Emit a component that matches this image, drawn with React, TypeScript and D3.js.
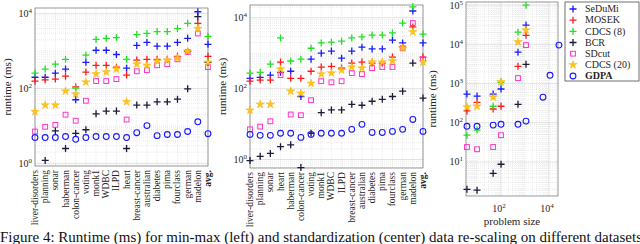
import React from "react";
import * as d3 from "d3";

const W = 640;
const H = 244;

const methods = ["SeDuMi", "MOSEK", "CDCS (8)", "BCR", "SDcut", "CDCS (20)", "GDPA"];
const colors = ["#1a1aff", "#ff1a1a", "#22e022", "#1a1a3c", "#ff33c4", "#ffc41a", "#1a1aff"];
const shapes = ["plus", "plus", "plus", "plus", "square", "star", "circle"];

// left panel: min-max re-scaling
const leftCats = ["liver-disorders", "planning", "sonar", "haberman", "colon-cancer", "voting", "monk1", "WDBC", "ILPD", "heart", "breast-cancer", "australian", "diabetes", "pima", "fourclass", "german", "madelon", "avg."];
const leftSeDuMi = [200, 200, 257, 331, 50, 500, 1050, 1050, 810, 350, 1410, 1700, 1350, 1350, 1700, 2190, 11200, 1510];
const leftMOSEK = [158, 170, 178, 214, 110, 275, 417, 417, 372, 229, 575, 603, 603, 603, 724, 977, 5500, 724];
const leftCDCS8 = [257, 331, 447, 603, 102, 776, 2040, 2190, 2290, 603, 2750, 2950, 3310, 3310, 3980, 5500, 16000, 2450];
const leftBCR = [0.83, 1.2, 7.4, 2.5, 6.3, 7.9, 21, 25, 25, 2.5, 36, 36, 44, 44, 52, 98, 8300, 500];
const leftSDcut = [7.1, 9.5, 10.7, 20, 13.8, 47, 158, 158, 178, 14.8, 288, 309, 417, 447, 603, 933, 2950, 372];
const leftCDCS20 = [24, 36, 36, 85, 71, 148, 245, 275, 331, 44, 447, 417, 537, 562, 646, 977, 3980, 501];
const leftGDPA = [4.9, 4.9, 4.9, 5.2, 4.4, 4.9, 5.2, 5.2, 5.2, 4.9, 6.6, 10.2, 5.5, 5.9, 5.9, 7.1, 12.9, 6.2];

// center panel: standardization
const midCats = ["liver-disorders", "planning", "sonar", "heart", "haberman", "colon-cancer", "voting", "monk1", "WDBC", "ILPD", "breast-cancer", "australian", "diabetes", "pima", "fourclass", "german", "madelon", "avg."];
const midSeDuMi = [195, 209, 240, 288, 309, 60, 676, 1000, 1150, 724, 1150, 1480, 1320, 1320, 2340, 1950, 15500, 1950];
const midMOSEK = [162, 174, 174, 562, 195, 195, 309, 407, 427, 380, 525, 562, 525, 525, 776, 1480, 5500, 776];
const midCDCS8 = [275, 288, 490, 2690, 603, 676, 1380, 1950, 2040, 2190, 2690, 2880, 3240, 3240, 3720, 7080, 20400, 3470];
const midBCR = [0.93, 1.23, 1.48, 2.3, 2.6, 0.59, 5.5, 21, 25, 25, 36, 34, 44, 50, 60, 85, 525, 54];
const midSDcut = [7.1, 8.5, 12, 240, 18.6, 17.8, 47, 162, 151, 162, 275, 257, 380, 407, 407, 1380, 7080, 676];
const midCDCS20 = [24.5, 36, 36, 355, 85, 74, 141, 257, 275, 331, 407, 380, 562, 562, 603, 1380, 3980, 562];
const midGDPA = [5.1, 4.8, 4.8, 5.5, 5.5, 4.2, 5.1, 5.5, 5.5, 5.5, 7.1, 9.8, 5.8, 5.8, 6.2, 7.1, 13.5, 6.2];

// right panel: runtime vs problem size
const sizes = [3.8, 10, 47, 100, 510, 1100];
const gdpaSizes = [3.8, 10, 47, 100, 510, 1100, 5600, 11000, 26000];
const sizeSeDuMi = [537, 479, 537, 724, 6310, 30900];
const sizeMOSEK = [200, 331, 224, 263, 2750, 17000];
const sizeCDCS8 = [48, 65, 263, 1070, 20400, 100000];
const sizeBCR = [2.0, 1.9, 5.1, 8.7, 295, 3090];
const sizeSDcut = [24, 21, 24, 48, 1380, 9550];
const sizeCDCS20 = [251, 263, 447, 1100, 11500, 22900];
const sizeGDPA = [81, 81, 87, 91, 91, 110, 447, 1620, 9550];

const FONT = "Liberation Serif, DejaVu Serif, serif";
const txt = { fontFamily: FONT };

const Marker = ({ shape, color, x, y }: { shape: string; color: string; x: number; y: number }) => {
  if (shape === "plus")
    return <path d={`M${x - 3.5},${y}h7M${x},${y - 3.5}v7`} stroke={color} strokeWidth={1.3} fill="none" />;
  if (shape === "square")
    return <rect x={x - 2.4} y={y - 2.4} width={4.8} height={4.8} stroke={color} strokeWidth={1} fill="none" />;
  if (shape === "circle")
    return <circle cx={x} cy={y} r={2.9} stroke={color} strokeWidth={1.1} fill="none" />;
  const star = d3.symbol().type(d3.symbolStar).size(22)();
  return <path d={star || ""} transform={`translate(${x},${y})`} fill={color} stroke="#f0b000" strokeWidth={0.4} />;
};

const minorTicks = (lo: number, hi: number) => {
  const out: number[] = [];
  for (let k = Math.floor(lo) - 1; k <= Math.ceil(hi); k++)
    for (let m = 1; m <= 9; m++) {
      const v = Math.log10(m * Math.pow(10, k));
      if (v >= lo && v <= hi) out.push(m * Math.pow(10, k));
    }
  return out;
};

const Pow = ({ x, y, e, anchor = "end" }: { x: number; y: number; e: number; anchor?: string }) => (
  <text x={x} y={y} textAnchor={anchor} fontSize={10} style={txt} fill="#262626">
    10<tspan dy={-4} fontSize={7}>{e}</tspan>
  </text>
);

type CatPanelProps = {
  cats: string[];
  series: number[][];
  x0: number;
  x1: number;
  yTop: number;
  yBot: number;
  logLo: number;
  logHi: number;
  ylabelX: number;
};

const CatPanel = ({ cats, series, x0, x1, yTop, yBot, logLo, logHi, ylabelX }: CatPanelProps) => {
  const x = d3.scalePoint<string>().domain(cats).range([x0, x1]);
  const y = d3.scaleLog().domain([Math.pow(10, logLo), Math.pow(10, logHi)]).range([yBot, yTop]);
  const majors = [1, 100, 10000];
  const minors = minorTicks(logLo, logHi).filter((v) => !majors.includes(v));
  return (
    <g>
      {minors.map((v, i) => (
        <line key={"mn" + i} x1={x0} x2={x1} y1={y(v)} y2={y(v)} stroke="#d6d6d6" strokeWidth={0.5} strokeDasharray="1,1" />
      ))}
      {cats.map((c) => (
        <line key={"vg" + c} x1={x(c)} x2={x(c)} y1={yTop} y2={yBot} stroke="#d6d6d6" strokeWidth={0.5} strokeDasharray="1,1" />
      ))}
      {majors.map((v) => (
        <line key={"mj" + v} x1={x0} x2={x1} y1={y(v)} y2={y(v)} stroke="#d0d0d0" strokeWidth={0.6} />
      ))}
      <rect x={x0} y={yTop} width={x1 - x0} height={yBot - yTop} fill="none" stroke="#555" strokeWidth={0.6} />
      {majors.map((v) => (
        <Pow key={"tl" + v} x={x0 - 3} y={y(v) + 3.5} e={Math.round(Math.log10(v))} />
      ))}
      <text
        transform={`translate(${ylabelX},${(yTop + yBot) / 2}) rotate(-90)`}
        textAnchor="middle"
        fontSize={11}
        style={txt}
        fill="#262626"
      >
        runtime (ms)
      </text>
      {cats.map((c) => (
        <text
          key={"cl" + c}
          transform={`translate(${(x(c) as number) + 3},${yBot + 4}) rotate(-90)`}
          textAnchor="end"
          fontSize={9.5}
          fontWeight={c === "avg." ? "bold" : "normal"}
          style={txt}
          fill="#262626"
        >
          {c}
        </text>
      ))}
      {series.map((vals, si) =>
        vals.map((v, i) => {
          const lv = Math.log10(v);
          if (lv < logLo || lv > logHi) return null;
          return <Marker key={si + "-" + i} shape={shapes[si]} color={colors[si]} x={x(cats[i]) as number} y={y(v)} />;
        })
      )}
    </g>
  );
};

const SizePanel = () => {
  const x0 = 466, x1 = 558, yTop = 2, yBot = 196;
  const lxLo = 0.54, lxHi = 4.375, lyLo = 0.13, lyHi = 5.08;
  const x = d3.scaleLog().domain([Math.pow(10, lxLo), Math.pow(10, lxHi)]).range([x0, x1]);
  const y = d3.scaleLog().domain([Math.pow(10, lyLo), Math.pow(10, lyHi)]).range([yBot, yTop]);
  const xMaj = [100, 10000];
  const yMaj = [10, 100, 1000, 10000, 100000];
  const xMin = minorTicks(lxLo, lxHi).filter((v) => !xMaj.includes(v));
  const yMin = minorTicks(lyLo, lyHi).filter((v) => !yMaj.includes(v));
  const series = [sizeSeDuMi, sizeMOSEK, sizeCDCS8, sizeBCR, sizeSDcut, sizeCDCS20, sizeGDPA];
  return (
    <g>
      {yMin.map((v, i) => (
        <line key={"ym" + i} x1={x0} x2={x1} y1={y(v)} y2={y(v)} stroke="#d6d6d6" strokeWidth={0.5} strokeDasharray="1,1" />
      ))}
      {xMin.map((v, i) => (
        <line key={"xm" + i} x1={x(v)} x2={x(v)} y1={yTop} y2={yBot} stroke="#d6d6d6" strokeWidth={0.5} strokeDasharray="1,1" />
      ))}
      {yMaj.map((v) => (
        <line key={"yM" + v} x1={x0} x2={x1} y1={y(v)} y2={y(v)} stroke="#d0d0d0" strokeWidth={0.6} />
      ))}
      {xMaj.map((v) => (
        <line key={"xM" + v} x1={x(v)} x2={x(v)} y1={yTop} y2={yBot} stroke="#d0d0d0" strokeWidth={0.6} />
      ))}
      <rect x={x0} y={yTop} width={x1 - x0} height={yBot - yTop} fill="none" stroke="#555" strokeWidth={0.6} />
      {yMaj.map((v) => (
        <Pow key={"yl" + v} x={x0 - 3} y={y(v) + 3.5} e={Math.round(Math.log10(v))} />
      ))}
      {xMaj.map((v) => (
        <Pow key={"xl" + v} x={x(v) - 2} y={yBot + 16} e={Math.round(Math.log10(v))} anchor="middle" />
      ))}
      <text x={(x0 + x1) / 2} y={yBot + 29} textAnchor="middle" fontSize={11} style={txt} fill="#262626">
        problem size
      </text>
      <text
        transform={`translate(${436},${(yTop + yBot) / 2}) rotate(-90)`}
        textAnchor="middle"
        fontSize={11}
        style={txt}
        fill="#262626"
      >
        runtime (ms)
      </text>
      {series.map((vals, si) =>
        vals.map((v, i) => (
          <Marker
            key={si + "-" + i}
            shape={shapes[si]}
            color={colors[si]}
            x={x(si === 6 ? gdpaSizes[i] : sizes[i])}
            y={y(v)}
          />
        ))
      )}
    </g>
  );
};

const Legend = () => {
  const lx = 565, ly = 2, lw = 74, lh = 79;
  const row = d3.scaleLinear().domain([0, methods.length - 1]).range([ly + 7, ly + 74]);
  return (
    <g>
      <rect x={lx} y={ly} width={lw} height={lh} fill="#fff" stroke="#333" strokeWidth={0.7} />
      {methods.map((m, i) => (
        <g key={m}>
          <Marker shape={shapes[i]} color={colors[i]} x={lx + 8} y={row(i)} />
          <text
            x={lx + 20}
            y={row(i) + 3.3}
            fontSize={10}
            style={txt}
            fontWeight={m === "GDPA" ? "bold" : "normal"}
            fill="#262626"
          >
            {m}
          </text>
        </g>
      ))}
    </g>
  );
};

export default function App() {
  return (
    <svg width={W} height={H} style={{ position: "absolute", left: 0, top: 0, background: "#fff" }}>
      <CatPanel
        cats={leftCats}
        series={[leftSeDuMi, leftMOSEK, leftCDCS8, leftBCR, leftSDcut, leftCDCS20, leftGDPA]}
        x0={35}
        x1={208}
        yTop={8}
        yBot={166}
        logLo={-0.07}
        logHi={4.15}
        ylabelX={11}
      />
      <CatPanel
        cats={midCats}
        series={[midSeDuMi, midMOSEK, midCDCS8, midBCR, midSDcut, midCDCS20, midGDPA]}
        x0={250}
        x1={423}
        yTop={5}
        yBot={168}
        logLo={-0.24}
        logHi={4.36}
        ylabelX={226}
      />
      <SizePanel />
      <Legend />
      <text x={0} y={242} fontSize={15} style={txt} fill="#111">
        Figure 4: Runtime (ms) for min-max (left) and standardization (center) data re-scaling on different datasets
      </text>
    </svg>
  );
}
